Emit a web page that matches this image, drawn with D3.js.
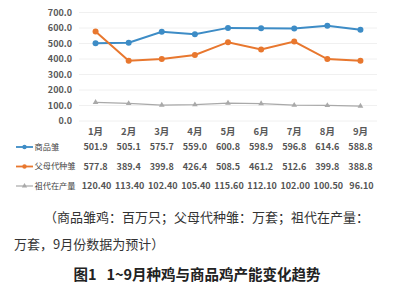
<!DOCTYPE html>
<html>
<head>
<meta charset="utf-8">
<script src="https://cdn.jsdelivr.net/npm/d3@7"></script>
<style>
  body { margin: 0; background: #fff; }
  svg { display: block; }
</style>
</head>
<body>
<svg id="chart" width="400" height="289"></svg>
<script>
var months = ["1月", "2月", "3月", "4月", "5月", "6月", "7月", "8月", "9月"];
var yTicks = [0, 100, 200, 300, 400, 500, 600, 700];
var seriesNames = ["商品雏", "父母代种雏", "祖代在产量"];
var commercial = [501.9, 505.1, 575.7, 559.0, 600.8, 598.9, 596.8, 614.6, 588.8];
var parentStock = [577.8, 389.4, 399.8, 426.4, 508.5, 461.2, 512.6, 399.8, 388.8];
var grandParent = [120.40, 113.40, 102.40, 105.40, 115.60, 112.10, 102.00, 100.50, 96.10];
var labels = [
  commercial.map(function (v) { return v.toFixed(1); }),
  parentStock.map(function (v) { return v.toFixed(1); }),
  grandParent.map(function (v) { return v.toFixed(2); })
];
var noteLine1 = "（商品雏鸡：百万只；父母代种雏：万套；祖代在产量：";
var noteLine2 = "万套，9月份数据为预计）";
var title = "图1   1~9月种鸡与商品鸡产能变化趋势";

var colors = ["#3d8cc6", "#e8772e", "#a9a9a9"];
var font = "'Noto Sans CJK SC', 'Noto Sans', sans-serif";

var svg = d3.select("#chart");
var x = d3.scaleBand().domain(months).range([79, 377]);
var y = d3.scaleLinear().domain([0, 700]).range([121, 12.5]);

// gridlines
svg.append("g")
  .selectAll("line")
  .data(yTicks)
  .enter()
  .append("line")
  .attr("x1", 79).attr("x2", 377)
  .attr("y1", function (d) { return y(d); })
  .attr("y2", function (d) { return y(d); })
  .attr("stroke", "#ececec")
  .attr("stroke-width", 0.8);

// y axis
var yAxis = svg.append("g")
  .attr("transform", "translate(75,0)")
  .call(d3.axisLeft(y).tickValues(yTicks).tickSize(0).tickFormat(d3.format(".1f")));
yAxis.select(".domain").remove();
yAxis.selectAll("text")
  .attr("fill", "#595959")
  .style("font-family", font)
  .style("font-size", "9px")
  .style("font-weight", "bold");

// x axis labels
var xAxis = svg.append("g")
  .attr("transform", "translate(0,125)")
  .call(d3.axisBottom(x).tickSize(0));
xAxis.select(".domain").remove();
xAxis.selectAll("text")
  .attr("fill", "#595959")
  .style("font-family", font)
  .style("font-size", "9.5px")
  .style("font-weight", "bold");

var allSeries = [commercial, parentStock, grandParent];
var line = d3.line()
  .x(function (d, i) { return x(months[i]) + x.bandwidth() / 2; })
  .y(function (d) { return y(d); });

allSeries.forEach(function (s, k) {
  svg.append("path")
    .datum(s)
    .attr("d", line)
    .attr("fill", "none")
    .attr("stroke", colors[k])
    .attr("stroke-width", k === 2 ? 1.2 : 2);
  if (k < 2) {
    svg.append("g").selectAll("circle")
      .data(s).enter().append("circle")
      .attr("cx", function (d, i) { return x(months[i]) + x.bandwidth() / 2; })
      .attr("cy", function (d) { return y(d); })
      .attr("r", 3)
      .attr("fill", colors[k]);
  } else {
    svg.append("g").selectAll("path")
      .data(s).enter().append("path")
      .attr("d", d3.symbol().type(d3.symbolTriangle).size(14))
      .attr("transform", function (d, i) {
        return "translate(" + (x(months[i]) + x.bandwidth() / 2) + "," + y(d) + ")";
      })
      .attr("fill", colors[k]);
  }
});

// data table
var rowY = [147, 166.5, 186];
seriesNames.forEach(function (name, k) {
  var g = svg.append("g");
  g.append("line")
    .attr("x1", 16).attr("x2", 33)
    .attr("y1", rowY[k]).attr("y2", rowY[k])
    .attr("stroke", colors[k]).attr("stroke-width", k === 2 ? 1.2 : 1.8);
  if (k < 2) {
    g.append("circle").attr("cx", 24.5).attr("cy", rowY[k]).attr("r", 2.2).attr("fill", colors[k]);
  } else {
    g.append("path")
      .attr("d", d3.symbol().type(d3.symbolTriangle).size(12))
      .attr("transform", "translate(24.5," + rowY[k] + ")")
      .attr("fill", colors[k]);
  }
  g.append("text")
    .attr("x", 34.5).attr("y", rowY[k])
    .attr("dy", "0.35em")
    .attr("fill", "#444")
    .style("font-family", font)
    .style("font-size", "8.2px")
    .text(name);
  g.selectAll("text.v")
    .data(labels[k]).enter().append("text")
    .attr("class", "v")
    .attr("x", function (d, i) { return x(months[i]) + x.bandwidth() / 2 + (k === 2 ? 1 : 0); })
    .attr("y", rowY[k])
    .attr("dy", "0.35em")
    .attr("text-anchor", "middle")
    .attr("fill", "#555")
    .style("font-family", font)
    .style("font-size", "9px")
    .style("font-weight", "bold")
    .text(function (d) { return d; });
});

// notes
svg.append("text")
  .attr("x", 44).attr("y", 222)
  .attr("fill", "#333")
  .style("font-family", font)
  .style("font-size", "13px")
  .text(noteLine1);
svg.append("text")
  .attr("x", 14).attr("y", 249)
  .attr("fill", "#333")
  .style("font-family", font)
  .style("font-size", "13px")
  .text(noteLine2);
svg.append("text")
  .attr("x", 197).attr("y", 280)
  .attr("text-anchor", "middle")
  .attr("fill", "#222")
  .style("font-family", font)
  .style("font-size", "14.5px")
  .style("font-weight", "bold")
  .style("white-space", "pre")
  .text(title);
</script>
</body>
</html>
